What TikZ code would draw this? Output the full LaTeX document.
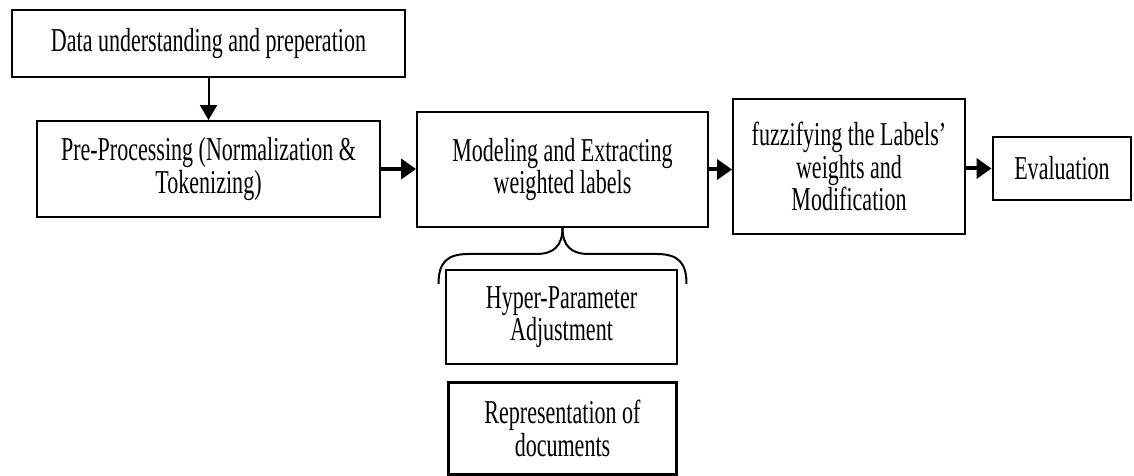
\documentclass[tikz,border=0pt]{standalone}
\usepackage{fontspec}
\setmainfont{Liberation Serif}[FakeStretch=0.66]
\usetikzlibrary{arrows.meta}

\begin{document}
\begin{tikzpicture}[x=0.02cm, y=-0.02cm,
		stage/.style={draw, line width=0.4mm, align=center, inner sep=0pt, font=\fontsize{19}{18.5}\selectfont,
			execute at begin node={\setlength{\baselineskip}{18.5pt}}},
		flow/.style={line width=0.8mm, -{Triangle[length=3mm, width=4mm]}}]
			%%%%% START %%%%%
			
			\useasboundingbox (0, 0) rectangle (1134, 476);
			
			\node[stage, minimum width=7.86cm, minimum height=1.34cm] (data) at (208.5, 43.5) {Data understanding and preperation};
			\node[stage, minimum width=6.86cm, minimum height=1.92cm] (prep) at (208.5, 169) {Pre-Processing (Normalization \&\\Tokenizing)};
			\node[stage, minimum width=5.82cm, minimum height=2.3cm] (model) at (562.5, 169.5) {Modeling and Extracting\\weighted labels};
			\node[stage, minimum width=4.64cm, minimum height=2.7cm] (fuzzy) at (849, 166.5) {fuzzifying the Labels'\\weights and\\Modification};
			\node[stage, minimum width=2.78cm, minimum height=1.26cm] (eval) at (1062, 168.5) {Evaluation};
			
			\node[stage, minimum width=4.62cm, minimum height=1.88cm] (hyper) at (561.5, 317) {Hyper-Parameter\\Adjustment};
			\node[stage, line width=0.6mm, minimum width=4.58cm, minimum height=1.86cm] (repr) at (562.5, 428.5) {Representation of\\documents};
			
			\draw[line width=0.4mm, -{Triangle[length=3mm, width=3.4mm]}] (data) -- (prep);
			\draw[flow] (prep.east) -- (prep.east -| model.west);
			\draw[flow] (model.east) -- (model.east -| fuzzy.west);
			\draw[flow] (fuzzy.east |- eval.west) -- (eval.west);
			
			\draw[line width=0.4mm] (model.south) .. controls +(0, 18) and +(17, 0) .. ++(-26, 26) -- ++(-68, 0) .. controls +(-22, 0) and +(0, -21) .. ++(-30, 30);
			\draw[line width=0.4mm] (model.south) .. controls +(0, 18) and +(-17, 0) .. ++(26, 26) -- ++(68, 0) .. controls +(22, 0) and +(0, -21) .. ++(30, 30);
			
			%%%%% END %%%%%
\end{tikzpicture}
\end{document}
